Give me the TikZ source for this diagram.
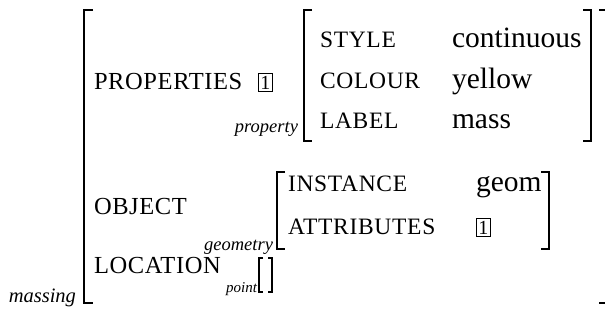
\documentclass[tikz,border=0pt]{standalone}
\usepackage{fontspec}
\setmainfont{Liberation Serif}
\newfontfamily\topfeat[LetterSpace=2.5]{Liberation Serif}
\newfontfamily\infeat[LetterSpace=3]{Liberation Serif}
\begin{document}
\begin{tikzpicture}[x=1pt,y=-1pt,
  txt/.style={inner sep=0pt, outer sep=0pt},
  topf/.style={txt, anchor=base west, font=\topfeat\fontsize{24.5}{24.5}\selectfont},
  inf/.style={txt, anchor=base west, font=\infeat\fontsize{23.5}{23.5}\selectfont},
  val/.style={txt, anchor=base west, font=\fontsize{29.5}{29.5}\selectfont},
  tag/.style={txt, anchor=base east, font=\itshape\fontsize{18.5}{18.5}\selectfont},
  tagbig/.style={txt, anchor=base east, font=\itshape\fontsize{20.5}{20.5}\selectfont},
  tagsm/.style={txt, anchor=base east, font=\itshape\fontsize{15}{15}\selectfont},
  tagbox/.style={draw, line width=0.6pt, inner xsep=2pt, inner ysep=2.3pt, anchor=base west, font=\fontsize{20}{20}\selectfont},
  outerbrk/.style={line width=2.6pt},
  innerbrk/.style={line width=2pt},
  thinbrk/.style={line width=1.2pt}]
\useasboundingbox (0,0) rectangle (605,324);
% outer bracket
\draw[outerbrk] (93,10) -- (84,10) -- (84,303) -- (93,303);
\draw[outerbrk] (599,10) -- (606,10);
\draw[outerbrk] (599,303) -- (606,303);
\node[tagbig] (massing) at (76,302) {massing};
% PROPERTIES
\node[topf] (props) at (94,89) {PROPERTIES};
\node[tagbox] (tag1a) at (258,89) {1};
\node[tag] (property) at (298,132) {property};
\draw[innerbrk] (312,10) -- (304,10) -- (304,141) -- (312,141);
\draw[innerbrk] (583,10) -- (591,10) -- (591,141) -- (583,141);
\node[inf] (style) at (320,47) {STYLE};
\node[val] (cont) at (452,47) {continuous};
\node[inf] (colour) at (320,88) {COLOUR};
\node[val] (yellow) at (452,88) {yellow};
\node[inf] (label) at (320,128) {LABEL};
\node[val] (mass) at (452,128) {mass};
% OBJECT
\node[topf] (object) at (94,214) {OBJECT};
\node[tag] (geometry) at (273,250) {geometry};
\draw[innerbrk] (285,172) -- (277,172) -- (277,249) -- (285,249);
\draw[innerbrk] (541,172) -- (549,172) -- (549,249) -- (541,249);
\node[inf] (instance) at (288,191) {INSTANCE};
\node[val] (geom) at (476,191) {geom};
\node[inf] (attrs) at (288,234) {ATTRIBUTES};
\node[tagbox] (tag1b) at (476,234) {1};
% LOCATION
\node[topf] (location) at (94,273) {LOCATION};
\node[tagsm] (point) at (257,292) {point};
\draw[thinbrk] (263,258) -- (259,258) -- (259,292) -- (263,292);
\draw[thinbrk] (268,258) -- (272,258) -- (272,292) -- (268,292);
\end{tikzpicture}
\end{document}
